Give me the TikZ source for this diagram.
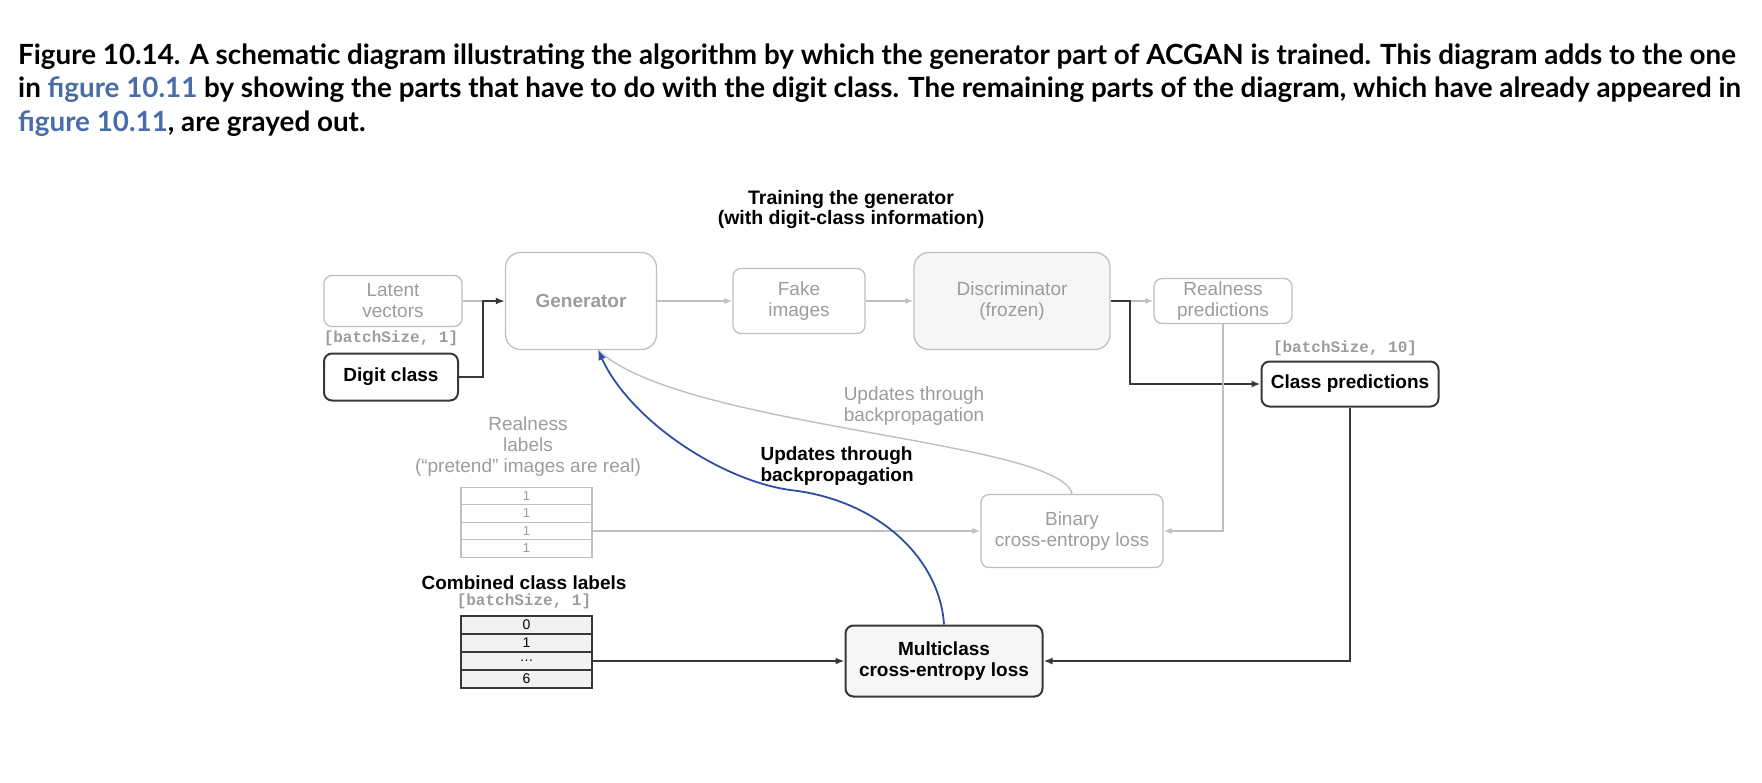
\documentclass[tikz,border=0pt]{standalone}
\usepackage{fontspec}
\setmainfont{Liberation Sans}
\setmonofont{Liberation Mono}
\newfontfamily\capfont{Lato}
\usetikzlibrary{arrows.meta}
\definecolor{lightline}{HTML}{BFBFBF}
\definecolor{lighttext}{HTML}{9C9C9C}
\definecolor{darkline}{HTML}{383838}
\definecolor{backblue}{HTML}{2E4EA6}
\definecolor{linkblue}{HTML}{4A6DA7}
\definecolor{discfill}{HTML}{F6F6F6}
\definecolor{cellfill}{HTML}{F2F2F2}
\begin{document}
\begin{tikzpicture}[x=1pt,y=-1pt,
    graybox/.style={draw=lightline,line width=1.3pt,rounded corners=8pt,inner sep=0pt,
      text=lighttext,align=center,font=\fontsize{19}{21}\selectfont},
    blackbox/.style={draw=darkline,line width=2pt,rounded corners=8pt,inner sep=0pt,
      align=center,font=\fontsize{19}{21}\selectfont\bfseries},
    monotext/.style={text=lighttext,font=\fontsize{16}{18}\selectfont\ttfamily\bfseries},
    graycell/.style={draw=lightline,line width=1.2pt,minimum width=131,minimum height=17.5,
      inner sep=0pt,text=lighttext,font=\fontsize{13}{14}\selectfont},
    darkcell/.style={draw=darkline,line width=1.5pt,fill=cellfill,minimum width=131,
      minimum height=18,inner sep=0pt,font=\fontsize{14}{15}\selectfont},
    grayline/.style={draw=lightline,line width=1.4pt},
    grayarrow/.style={grayline,-{Latex[length=8pt,width=6pt]}},
    darkarrow/.style={draw=darkline,line width=2pt,-{Latex[length=9pt,width=7pt]}},
    caption/.style={anchor=base west,inner sep=0pt,font=\capfont\bfseries\fontsize{27.8}{30}\selectfont}]
  \useasboundingbox (0,0) rectangle (1762,782);

  \node[caption] (cap1) at (18,64) {Figure 10.14. A schematic diagram illustrating the algorithm by which the generator part of ACGAN is trained. This diagram adds to the one};
  \node[caption] (cap2) at (18,97) {in \textcolor{linkblue}{figure 10.11} by showing the parts that have to do with the digit class. The remaining parts of the diagram, which have already appeared in};
  \node[caption] (cap3) at (18,131) {\textcolor{linkblue}{figure 10.11}, are grayed out.};

  \node[align=center,font=\fontsize{19.5}{20}\selectfont\bfseries] (title) at (851,209) {Training the generator\\(with digit-class information)};

  \node[graybox,minimum width=138,minimum height=51] (latent) at (393,301) {Latent\\vectors};
  \node[monotext] (lsize) at (391,338) {[batchSize, 1]};
  \node[blackbox,minimum width=134,minimum height=47] (digit) at (391,377) {Digit class};
  \node[graybox,rounded corners=15pt,minimum width=151,minimum height=97,font=\fontsize{19}{21}\selectfont\bfseries] (gen) at (581,301) {Generator};
  \node[graybox,minimum width=132,minimum height=65] (fake) at (799,301) {Fake\\images};
  \node[graybox,rounded corners=15pt,fill=discfill,minimum width=196,minimum height=97] (disc) at (1012,301) {Discriminator\\(frozen)};
  \node[graybox,minimum width=138,minimum height=45] (rpred) at (1223,301) {Realness\\predictions};
  \node[monotext] (csize) at (1345,348) {[batchSize, 10]};
  \node[blackbox,minimum width=177,minimum height=45] (cpred) at (1350,384) {Class predictions};
  \node[graybox,minimum width=182,minimum height=73] (bce) at (1072,531) {Binary\\cross-entropy loss};
  \node[blackbox,fill=discfill,minimum width=197,minimum height=71] (mce) at (944,661) {Multiclass\\cross-entropy loss};

  \node[text=lighttext,align=center,font=\fontsize{19}{21}\selectfont] (grayupd) at (914,406) {Updates through\\backpropagation};
  \node[anchor=west,align=left,font=\fontsize{19}{21}\selectfont\bfseries] (blackupd) at (757,466) {Updates through\\backpropagation};

  \node[text=lighttext,align=center,font=\fontsize{19}{21}\selectfont] (rlabels) at (528,447) {Realness\\labels\\(“pretend” images are real)};
  \foreach \v [count=\i] in {1,1,1,1} {
    \node[graycell] (r\i) at (526.5,478.5+17.5*\i) {\v};
  }
  \node[font=\fontsize{19}{21}\selectfont\bfseries] (clabels) at (524,583) {Combined class labels};
  \node[monotext] (csize2) at (524,601) {[batchSize, 1]};
  \foreach \v [count=\i] in {0,1,\ldots,6} {
    \node[darkcell] (c\i) at (526.5,607+18*\i) {\v};
  }

  \coordinate (join) at (483,301);
  \coordinate (gentip) at (598,350);
  \draw[grayline] (latent.east) -- (join);
  \draw[darkarrow] (digit.east) -| (join) -- (gen.west);
  \draw[grayarrow] (gen) -- (fake);
  \draw[grayarrow] (fake) -- (disc);
  \draw[grayarrow] (disc) -- (rpred);
  \draw[darkarrow] (disc.east) -- ++(19,0) |- (cpred.west);
  \draw[grayarrow] (rpred.south) |- (bce.east);
  \draw[grayarrow] (r3.east) -- (bce.west);
  \draw[darkarrow] (cpred.south) |- (mce.east);
  \draw[darkarrow] (c3.east) -- (mce.west);
  \draw[grayline] (bce.north) .. controls (1060,440) and (680,428) .. (gentip);
  \draw[draw=backblue,line width=1.8pt,-{Latex[length=10pt,width=8pt]}] (mce.north) .. controls (940,560) and (880,500) .. (790,490) .. controls (720,480) and (630,420) .. (gentip);
\end{tikzpicture}
\end{document}
